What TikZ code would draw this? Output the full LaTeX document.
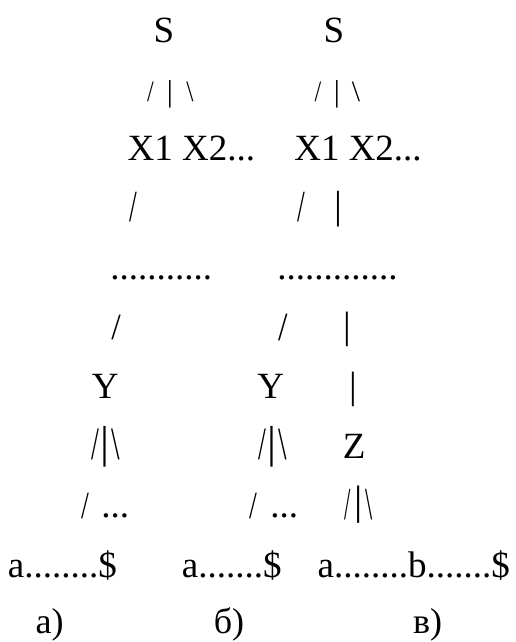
\documentclass[tikz,border=0pt]{standalone}
\usepackage{fontspec}
\setmainfont{Liberation Serif}
\newfontfamily\tnr{Liberation Serif}
\usepackage{graphicx}
\newcommand\bigf{\tnr\fontsize{37}{40}\selectfont}
\newcommand\labf{\tnr\fontsize{36}{40}\selectfont}
\newcommand\gsl[2]{\scalebox{#1}[#2]{\bigf/}}
\newcommand\gbs[2]{\scalebox{#1}[#2]{\bigf\textbackslash}}
\newcommand\gbar[1]{\scalebox{#1}{\bigf|}}
\tikzset{
  txt/.style={inner sep=0pt, outer sep=0pt, font=\bigf, anchor=base west},
  ctr/.style={inner sep=0pt, outer sep=0pt, font=\bigf, anchor=base},
  gl/.style={inner sep=0pt, outer sep=0pt, anchor=base},
  lab/.style={inner sep=0pt, outer sep=0pt, font=\labf, anchor=base},
}
\begin{document}
\begin{tikzpicture}[x=1pt,y=-1pt]
\useasboundingbox (0,0) rectangle (516,642);
% ---------- column a ----------
\node[ctr] (sA) at (164,42.5) {S};
\node[gl] (a2l) at (150.5,101.5) {\gsl{0.65}{0.8}};
\node[gl] (a2m) at (170,101.5) {\gbar{0.82}};
\node[gl] (a2r) at (190,101.5) {\gbs{0.7}{0.8}};
\node[txt] (xA) at (127.6,160.5) {X1 X2...};
\node[gl] (a4l) at (133.5,221.5) {\gsl{0.75}{1.2}};
\node[txt] (dA) at (110.4,279.5) {...........};
\node[gl] (a6l) at (116,339.5) {\gsl{0.92}{1.0}};
\node[ctr] (yA) at (105.2,398.5) {Y};
\node[gl] (a8l) at (95.8,459.5) {\gsl{0.76}{1.25}};
\node[gl] (a8m) at (105,457) {\gbar{1.21}};
\node[gl] (a8r) at (116.2,459.5) {\gbs{0.83}{1.25}};
\node[gl] (a9l) at (85.8,518) {\gsl{0.76}{1.04}};
\node[txt] (eA) at (101.4,517.5) {...};
\node[txt] (wA) at (7.9,577.5) {a........\$};
\node[lab] (lA) at (49.7,633) {а)};
% ---------- column b ----------
\node[ctr] (sB) at (334,42.5) {S};
\node[gl] (b2l) at (318,101.5) {\gsl{0.65}{0.8}};
\node[gl] (b2m) at (337,101.5) {\gbar{0.82}};
\node[gl] (b2r) at (356,101.5) {\gbs{0.8}{0.8}};
\node[txt] (xB) at (294.3,160.5) {X1 X2...};
\node[gl] (b4l) at (301,221.5) {\gsl{0.75}{1.2}};
\node[gl] (b4m) at (338,218.5) {\gbar{1.06}};
\node[txt] (dB) at (277.4,279.5) {.............};
\node[gl] (b6l) at (283.3,340.5) {\gsl{0.92}{1.08}};
\node[gl] (b6m) at (347.7,338.7) {\gbar{1.03}};
\node[ctr] (yB) at (270.8,398.5) {Y};
\node[gl] (b7m) at (353.3,398.4) {\gbar{1.03}};
\node[gl] (b8l) at (262.8,459.5) {\gsl{0.76}{1.25}};
\node[gl] (b8m) at (272,457) {\gbar{1.21}};
\node[gl] (b8r) at (283.2,459.5) {\gbs{0.83}{1.25}};
\node[ctr] (zB) at (354.2,458.3) {Z};
\node[gl] (b9l) at (253.5,518) {\gsl{0.76}{1.04}};
\node[txt] (eB) at (270.4,517.5) {...};
% ---------- column c ----------
\node[gl] (c9l) at (347.3,519.5) {\gsl{0.62}{1.24}};
\node[gl] (c9m) at (358.3,514.4) {\gbar{1.11}};
\node[gl] (c9r) at (368.8,519.5) {\gbs{0.7}{1.24}};
\node[txt] (wB) at (181.9,577.5) {a.......\$};
\node[txt] (wC) at (317.6,577.5) {a........b.......\$};
\node[lab] (lB) at (229,633) {б)};
\node[lab] (lC) at (427.5,633) {в)};
\end{tikzpicture}
\end{document}
